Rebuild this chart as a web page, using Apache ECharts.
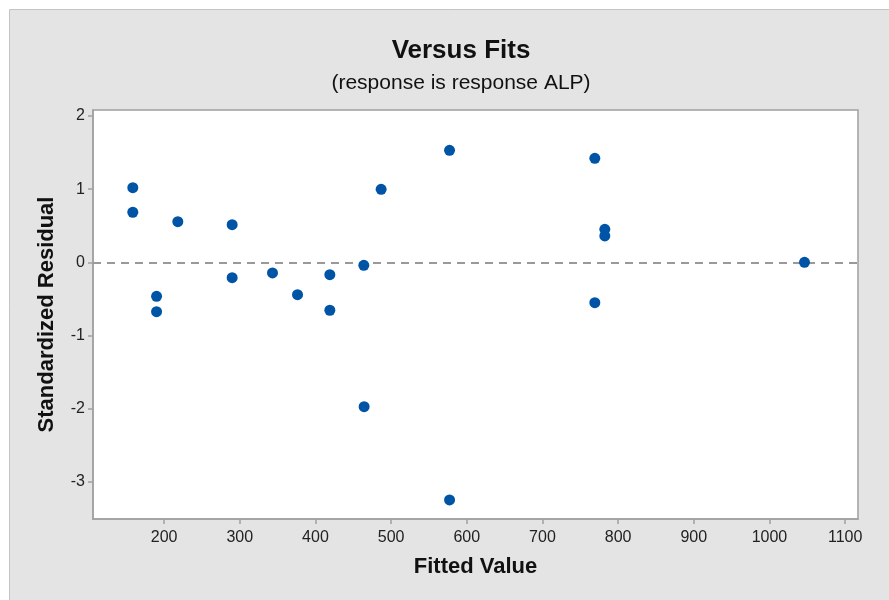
<!DOCTYPE html>
<html>
<head>
<meta charset="utf-8">
<title>Versus Fits</title>
<script src="https://cdn.jsdelivr.net/npm/echarts@6/dist/echarts.min.js"></script>
<style>
  html, body { margin: 0; padding: 0; background: #ffffff; }
  #chart { width: 889px; height: 600px; }
</style>
</head>
<body>
<div id="chart"></div>
<script>
// Fitted values and their standardized residuals
const fittedValues = [158.6, 158.6, 218.1, 289.9, 190.0, 190.0, 289.9, 343.2, 376.3, 419.0, 419.0,
                      463.9, 486.8, 577.2, 769.2, 782.4, 782.4, 769.2, 1046.3, 464.3, 577.2];
const stdResiduals = [1.02, 0.684, 0.555, 0.514, -0.465, -0.675, -0.21, -0.146, -0.443, -0.17, -0.656,
                      -0.041, 0.998, 1.531, 1.422, 0.451, 0.36, -0.552, 0.0, -1.975, -3.25];
const xTicks = [200, 300, 400, 500, 600, 700, 800, 900, 1000, 1100];
const yTicks = [-3, -2, -1, 0, 1, 2];

const points = fittedValues.map((v, i) => [v, stdResiduals[i]]);

const chart = echarts.init(document.getElementById('chart'), null, { renderer: 'canvas' });
const font = 'Liberation Sans, Arial, sans-serif';
const axisGray = '#a0a0a0';
const plain = v => String(v);

chart.setOption({
  backgroundColor: '#ffffff',
  animation: false,
  graphic: [{
    type: 'rect',
    z: -10,
    shape: { x: 9.5, y: 9.5, width: 885, height: 600 },
    style: { fill: '#e4e4e4', stroke: '#c4c4c4', lineWidth: 1 }
  }],
  title: [{
    text: 'Versus Fits',
    left: 456, top: 33, textAlign: 'center',
    textStyle: { fontFamily: font, fontSize: 26, fontWeight: 'bold', color: '#111' }
  }, {
    text: '(response is response ALP)',
    left: 456, top: 68, textAlign: 'center',
    textStyle: { fontFamily: font, fontSize: 21, fontWeight: 'normal', color: '#111' }
  }],
  grid: {
    left: 93, top: 110, width: 765, height: 409,
    show: true, backgroundColor: '#ffffff', borderColor: axisGray, borderWidth: 1.5
  },
  xAxis: {
    type: 'value', min: 106, max: 1117,
    name: 'Fitted Value', nameLocation: 'middle', nameGap: 37,
    nameTextStyle: { fontFamily: font, fontSize: 22, fontWeight: 'bold', color: '#111' },
    axisLine: { show: true, onZero: false, lineStyle: { color: axisGray, width: 1.5 } },
    axisTick: { show: true, length: 5, lineStyle: { color: axisGray, width: 1.5 }, customValues: xTicks },
    axisLabel: { fontFamily: font, fontSize: 16, color: '#222', margin: 11, customValues: xTicks, formatter: plain },
    splitLine: { show: false }
  },
  yAxis: {
    type: 'value', min: -3.51, max: 2.082,
    name: 'Standardized Residual', nameLocation: 'middle', nameGap: 35,
    nameTextStyle: { fontFamily: font, fontSize: 22, fontWeight: 'bold', color: '#111' },
    axisLine: { show: true, onZero: false, lineStyle: { color: axisGray, width: 1.5 } },
    axisTick: { show: true, length: 5, lineStyle: { color: axisGray, width: 1.5 }, customValues: yTicks },
    axisLabel: { fontFamily: font, fontSize: 16, color: '#222', margin: 8, customValues: yTicks, formatter: plain },
    splitLine: { show: false }
  },
  series: [{
    type: 'scatter',
    data: points,
    symbol: 'circle',
    symbolSize: 11,
    itemStyle: { color: '#0054a6', opacity: 1 },
    markLine: {
      silent: true,
      symbol: 'none',
      label: { show: false },
      lineStyle: { color: '#999999', type: [8, 6], width: 2, opacity: 1 },
      data: [{ yAxis: 0 }],
      z: 1
    },
    z: 3
  }]
});
</script>
</body>
</html>
